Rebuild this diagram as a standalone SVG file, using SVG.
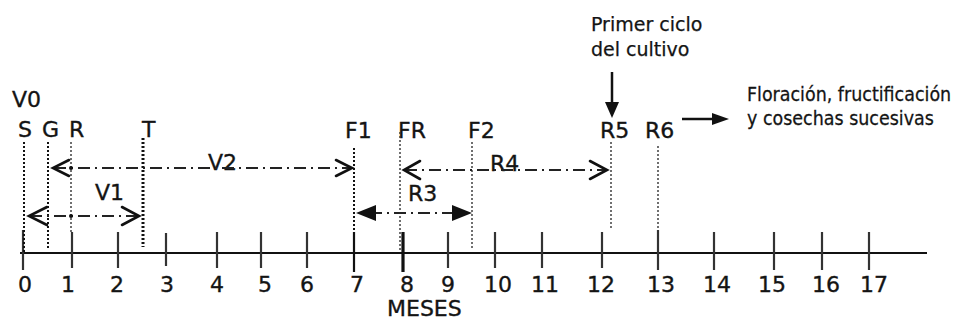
<svg xmlns="http://www.w3.org/2000/svg" width="961" height="322" viewBox="0 0 961 322">
  <style>
    text { font-family: "DejaVu Sans", Verdana, sans-serif; fill: #141414; stroke: #141414; stroke-width: 0.35; }
    .lbl { font-size: 22px; }
    .num { font-size: 22px; text-anchor: middle; }
    .note { font-size: 19px; stroke-width: 0.25; }
    .note.small { font-size: 17.5px; }
    .axis { stroke: #111; stroke-width: 2; fill: none; }
    .tick { stroke: #333; stroke-width: 2.2; }
    .guide { stroke: #111; stroke-width: 2; stroke-dasharray: 2 2; fill: none; }
    .guide.thin { stroke-width: 1.4; stroke: #333; }
    .guide.bold { stroke-width: 3; }
    .span { stroke: #222; stroke-width: 2; stroke-dasharray: 12 5 2 5; fill: none; }
    .chev { stroke: #111; stroke-width: 2.6; fill: none; stroke-linecap: round; stroke-linejoin: miter; }
    .solid { fill: #111; stroke: none; }
    .pointer { stroke: #111; stroke-width: 2.5; fill: none; }
  </style>

  <!-- time axis in months -->
  <g id="axis">
    <line class="axis" x1="20" y1="253" x2="927" y2="253"/>
    <g class="ticks">
      <line class="tick" x1="23" y1="230" x2="23" y2="270"/>
      <line class="tick" x1="72" y1="232" x2="72" y2="268"/>
      <line class="tick" x1="118" y1="232" x2="118" y2="268"/>
      <line class="tick" x1="166" y1="233" x2="166" y2="266"/>
      <line class="tick" x1="217" y1="232" x2="217" y2="268"/>
      <line class="tick" x1="261" y1="232" x2="261" y2="268"/>
      <line class="tick" x1="307" y1="232" x2="307" y2="268"/>
      <line class="tick" x1="354" y1="232" x2="354" y2="272" style="stroke:#111"/>
      <line class="tick" x1="403" y1="232" x2="403" y2="272" style="stroke:#111;stroke-width:3.2"/>
      <line class="tick" x1="448" y1="232" x2="448" y2="268"/>
      <line class="tick" x1="495" y1="232" x2="495" y2="268"/>
      <line class="tick" x1="542" y1="232" x2="542" y2="268"/>
      <line class="tick" x1="602" y1="232" x2="602" y2="268"/>
      <line class="tick" x1="658" y1="230" x2="658" y2="270"/>
      <line class="tick" x1="714" y1="232" x2="714" y2="270"/>
      <line class="tick" x1="774" y1="232" x2="774" y2="270"/>
      <line class="tick" x1="822" y1="232" x2="822" y2="270"/>
      <line class="tick" x1="869" y1="232" x2="869" y2="270"/>
    </g>
    <g class="labels">
      <text class="num" x="25" y="292">0</text>
      <text class="num" x="68" y="292">1</text>
      <text class="num" x="117" y="292">2</text>
      <text class="num" x="167" y="292">3</text>
      <text class="num" x="217" y="292">4</text>
      <text class="num" x="265" y="292">5</text>
      <text class="num" x="307" y="292">6</text>
      <text class="num" x="357" y="292">7</text>
      <text class="num" x="407" y="292">8</text>
      <text class="num" x="448" y="292">9</text>
      <text class="num" x="498" y="292">10</text>
      <text class="num" x="545" y="292">11</text>
      <text class="num" x="601" y="292">12</text>
      <text class="num" x="661" y="292">13</text>
      <text class="num" x="717" y="292">14</text>
      <text class="num" x="772" y="292">15</text>
      <text class="num" x="826" y="292">16</text>
      <text class="num" x="874" y="292">17</text>
    </g>
    <text class="lbl" x="387" y="316">MESES</text>
  </g>

  <!-- stage markers -->
  <g id="stage-V0"><text class="lbl" x="12" y="107">V0</text></g>
  <g id="stage-S">
    <text class="lbl" x="18" y="137">S</text>
    <line class="guide" x1="24" y1="142" x2="24" y2="252"/>
  </g>
  <g id="stage-G">
    <text class="lbl" x="42" y="137">G</text>
    <line class="guide" x1="48" y1="142" x2="48" y2="248"/>
  </g>
  <g id="stage-R">
    <text class="lbl" x="69" y="137">R</text>
    <line class="guide thin" x1="71" y1="142" x2="71" y2="232"/>
  </g>
  <g id="stage-T">
    <text class="lbl" x="142" y="137">T</text>
    <line class="guide bold" x1="143" y1="138" x2="143" y2="247"/>
  </g>
  <g id="stage-F1">
    <text class="lbl" x="345" y="138">F1</text>
    <line class="guide" x1="354" y1="148" x2="354" y2="230"/>
  </g>
  <g id="stage-FR">
    <text class="lbl" x="398" y="138">FR</text>
    <line class="guide thin" x1="400" y1="132" x2="400" y2="250"/>
  </g>
  <g id="stage-F2">
    <text class="lbl" x="468" y="138">F2</text>
    <line class="guide thin" x1="472" y1="142" x2="472" y2="248"/>
  </g>
  <g id="stage-R5">
    <text class="lbl" x="600" y="138">R5</text>
    <line class="guide thin" x1="611" y1="142" x2="611" y2="230"/>
  </g>
  <g id="stage-R6">
    <text class="lbl" x="645" y="138">R6</text>
    <line class="guide thin" x1="658" y1="146" x2="658" y2="229"/>
  </g>

  <!-- annotations -->
  <g id="note-first-cycle">
    <text class="note" x="591" y="31">Primer ciclo</text>
    <text class="note" x="591" y="56">del cultivo</text>
  </g>
  <g id="note-flowering">
    <text class="note small" transform="translate(747,101) scale(1,1.1)">Floración, fructificación</text>
    <text class="note small" transform="translate(747,125) scale(1,1.1)">y cosechas sucesivas</text>
  </g>

  <!-- phase labels -->
  <g id="phase-V1"><text class="lbl" x="95" y="200">V1</text></g>
  <g id="phase-V2"><text class="lbl" x="208" y="170">V2</text></g>
  <g id="phase-R3"><text class="lbl" x="408" y="201">R3</text></g>
  <g id="phase-R4"><text class="lbl" x="490" y="171">R4</text></g>

  <!-- connectors: phase spans and pointers -->
  <g id="connectors">
    <!-- V1: S to T -->
    <line class="span" x1="30" y1="216" x2="137" y2="216"/>
    <polyline class="chev" points="47,207 29,216 47,225"/>
    <polyline class="chev" points="122,207 139,216 122,225"/>
    <circle cx="71" cy="216" r="2" class="solid"/>
    <!-- V2: G to F1 -->
    <line class="span" x1="54" y1="168" x2="350" y2="168"/>
    <polyline class="chev" points="69,160 53,168 69,176"/>
    <polyline class="chev" points="336,160 352,168 336,176"/>
    <circle cx="71" cy="168" r="2" class="solid"/>
    <!-- R3: F1 to F2 -->
    <line class="span" x1="370" y1="213" x2="458" y2="213"/>
    <polygon class="solid" points="356,213 376,205 376,221"/>
    <polygon class="solid" points="472,213 452,205 452,221"/>
    <!-- R4: FR to R5 -->
    <line class="span" x1="405" y1="170" x2="605" y2="170"/>
    <polyline class="chev" points="420,161 404,170 420,179"/>
    <polyline class="chev" points="590,161 607,170 590,179"/>
    <!-- pointer to R5 -->
    <line class="pointer" x1="612" y1="72" x2="612" y2="104"/>
    <polygon class="solid" points="605,102 619,102 612,118"/>
    <!-- pointer from R6 to the note -->
    <line class="pointer" x1="682" y1="119" x2="714" y2="119"/>
    <polygon class="solid" points="712,113 712,125 729,119"/>
  </g>
</svg>
